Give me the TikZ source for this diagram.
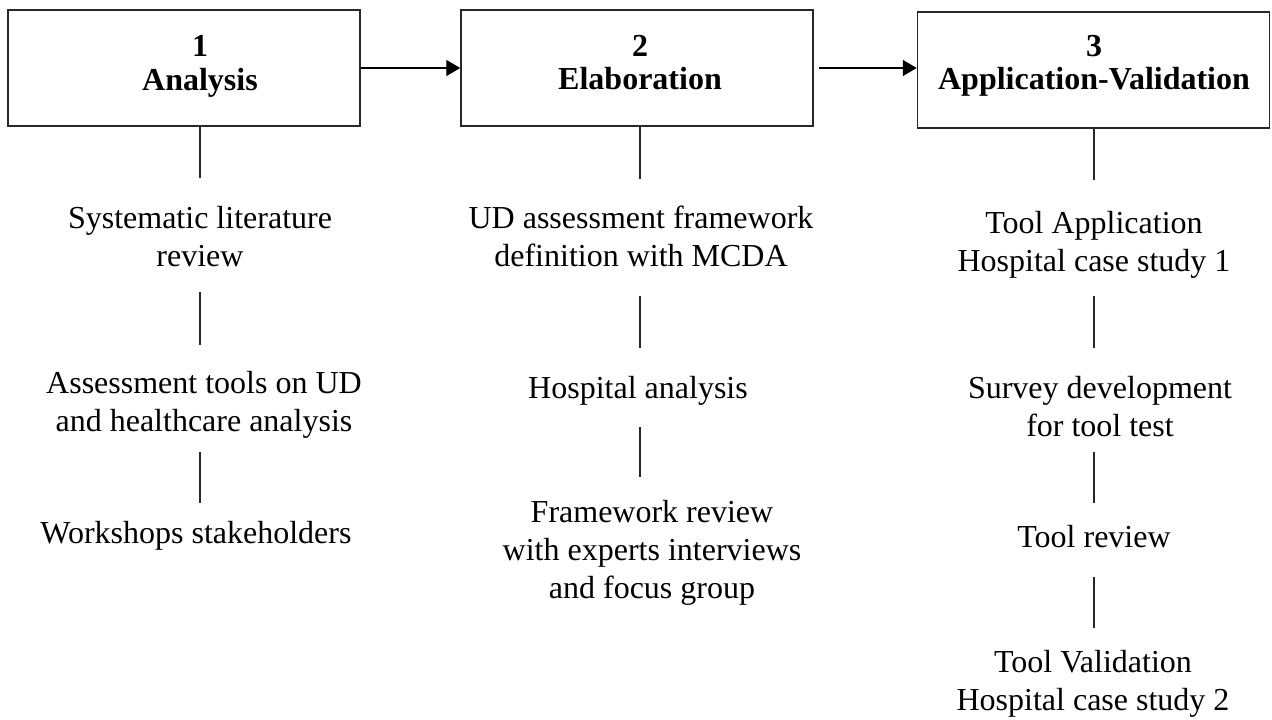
\documentclass[tikz,border=0pt]{standalone}
\usepackage{fontspec}
\setmainfont{Liberation Serif}
\usetikzlibrary{arrows.meta}
\definecolor{edge}{RGB}{40,40,40}
\newcommand{\bodytxt}[1]{{\fontsize{16pt}{19pt}\selectfont\renewcommand{\arraystretch}{1}\begin{tabular}[t]{@{}c@{}}#1\end{tabular}}}
\newcommand{\titletxt}[1]{{\fontsize{16pt}{16.75pt}\selectfont\bfseries\renewcommand{\arraystretch}{1}\begin{tabular}[t]{@{}c@{}}#1\end{tabular}}}
\tikzset{
  phasebox/.style={draw=edge, line width=0.75pt, fill=none, inner sep=0pt, minimum width=176pt, minimum height=58pt},
  txt/.style={inner sep=0pt, anchor=base},
  conn/.style={draw=edge, line width=0.7pt},
  flow/.style={draw=black, line width=0.7pt, -{Triangle[length=7pt,width=8pt]}}
}
\begin{document}
\begin{tikzpicture}[x=0.5pt,y=-0.5pt]
\useasboundingbox (0,0) rectangle (1272,719);
% phase boxes
\node[phasebox] (b1) at (184,68) {};
\node[phasebox] (b2) at (637,68) {};
\node[phasebox] (b3) at (1093.5,70) {};
% titles
\node[txt] (h1) at (200,56.5) {\titletxt{1\\Analysis}};
\node[txt] (h2) at (640,56) {\titletxt{2\\Elaboration}};
\node[txt] (h3) at (1094,56) {\titletxt{3\\Application-Validation}};
% arrows
\draw[flow] (b1.east) -- (b2.west);
\draw[flow, shorten <=2.5pt] (b2.east) -- (b3.west |- b2.east);
% column 1
\node[txt] (t11) at (200,228) {\bodytxt{Systematic literature\\review}};
\node[txt] (t12) at (204,393) {\bodytxt{Assessment tools on UD\\and healthcare analysis}};
\node[txt] (t13) at (196,543) {\bodytxt{Workshops stakeholders}};
% column 2
\node[txt] (t21) at (641,228) {\bodytxt{UD assessment framework\\definition with MCDA}};
\node[txt] (t22) at (638,398) {\bodytxt{Hospital analysis}};
\node[txt] (t23) at (652,522) {\bodytxt{Framework review\\with experts interviews\\and focus group}};
% column 3
\node[txt] (t31) at (1094,233) {\bodytxt{Tool Application\\Hospital case study 1}};
\node[txt] (t32) at (1100,398) {\bodytxt{Survey development\\for tool test}};
\node[txt] (t33) at (1094,547) {\bodytxt{Tool review}};
\node[txt] (t34) at (1093,672) {\bodytxt{Tool Validation\\Hospital case study 2}};
% connectors column 1
\draw[conn, shorten >=11.7pt] (h1 |- b1.south) -- (h1 |- t11.north);
\draw[conn, shorten <=7.3pt, shorten >=10.7pt] (h1 |- t11.south) -- (h1 |- t12.north);
\draw[conn, shorten <=4.8pt, shorten >=6.7pt] (h1 |- t12.south) -- (h1 |- t13.north);
% connectors column 2
\draw[conn, shorten >=11.2pt] (h2 |- b2.south) -- (h2 |- t21.north);
\draw[conn, shorten <=9.3pt, shorten >=11.7pt] (h2 |- t21.south) -- (h2 |- t22.north);
\draw[conn, shorten <=8.8pt, shorten >=9.2pt] (h2 |- t22.south) -- (h2 |- t23.north);
% connectors column 3
\draw[conn, shorten >=13.2pt] (h3 |- b3.south) -- (h3 |- t31.north);
\draw[conn, shorten <=6.8pt, shorten >=11.7pt] (h3 |- t31.south) -- (h3 |- t32.north);
\draw[conn, shorten <=2.3pt, shorten >=8.7pt] (h3 |- t32.south) -- (h3 |- t33.north);
\draw[conn, shorten <=9.3pt, shorten >=8.7pt] (h3 |- t33.south) -- (h3 |- t34.north);
\end{tikzpicture}
\end{document}
